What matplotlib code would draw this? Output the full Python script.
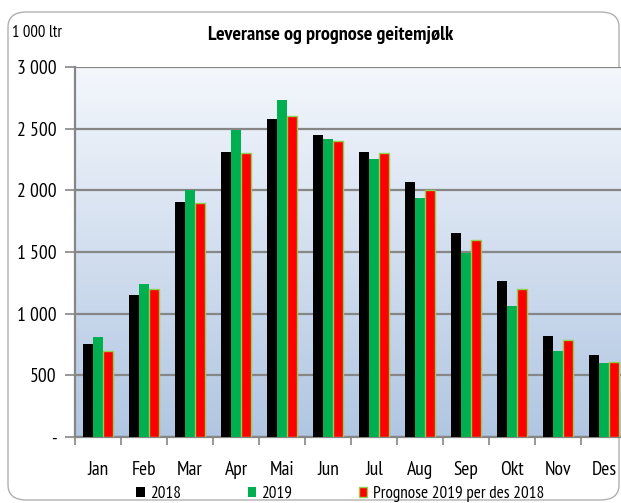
import numpy as np
import matplotlib

matplotlib.use("Agg")
import matplotlib.pyplot as plt
from matplotlib.patches import FancyBboxPatch, Patch
from matplotlib.ticker import FuncFormatter, MultipleLocator

plt.rcParams["font.family"] = ["PT Sans Narrow", "Carlito", "DejaVu Sans"]

MONTHS = ["Jan", "Feb", "Mar", "Apr", "Mai", "Jun", "Jul", "Aug", "Sep", "Okt", "Nov", "Des"]
Y2018 = [752, 1150, 1905, 2308, 2578, 2451, 2308, 2065, 1651, 1265, 818, 665]
Y2019 = [811, 1240, 2005, 2492, 2730, 2419, 2257, 1938, 1494, 1062, 700, 598]
PROGNOSE = [700, 1200, 1900, 2300, 2600, 2400, 2300, 2000, 1600, 1200, 790, 605]
LABELS = ["2018", "2019", "Prognose 2019 per des 2018"]

fig = plt.figure(figsize=(6.21, 5.03), dpi=100)
fig.patch.set_facecolor("white")
frame = FancyBboxPatch((8 / 621, 3 / 503), 611 / 621, 488 / 503,
                       boxstyle="round,pad=0,rounding_size=0.03",
                       transform=fig.transFigure, facecolor="white",
                       edgecolor="#b0b0b0", linewidth=1.0, zorder=-5)
fig.patches.append(frame)

ax = fig.add_axes([75 / 621, (503 - 437) / 503, 552 / 621, 370 / 503], zorder=2)
ax.set_facecolor("none")

# background gradient
grad = np.linspace(0, 1, 256).reshape(-1, 1)
top = np.array([244, 247, 252]) / 255
bot = np.array([176, 198, 226]) / 255
img = top + (bot - top) * grad[..., None]
ax.imshow(img, extent=(-0.5, 11.5, 0, 3000), aspect="auto", zorder=0,
          origin="upper")

x = np.arange(len(MONTHS))
w = 0.22
ax.bar(x - w, Y2018, w, color="black", zorder=3)
ax.bar(x, Y2019, w, color="#00b050", zorder=3)
ax.bar(x + w, PROGNOSE, w, color="#ff0000", edgecolor="#92d050",
       linewidth=1.0, zorder=3)

ax.set_xlim(-0.5, 11.5)
ax.set_ylim(0, 3000)
ax.yaxis.set_major_locator(MultipleLocator(500))
ax.yaxis.set_major_formatter(FuncFormatter(
    lambda v, p: "-" if v == 0 else f"{int(v):,}".replace(",", " ")))
ax.grid(axis="y", color="#868686", linewidth=1.6, zorder=1)
ax.set_axisbelow(True)

ax.set_xticks(x)
ax.set_xticklabels(MONTHS, fontsize=14)
ax.set_xticks(np.arange(-0.5, 12, 1), minor=True)
ax.tick_params(axis="x", which="major", length=0, pad=17)
ax.tick_params(axis="x", which="minor", length=6, color="#868686", width=1.2)
ax.tick_params(axis="y", length=7.5, color="#868686", width=1.2, labelsize=14, pad=6)

for s in ("top", "right"):
    ax.spines[s].set_visible(False)
for s in ("left", "bottom"):
    ax.spines[s].set_color("#868686")
    ax.spines[s].set_linewidth(1.6)

fig.text(12 / 621, 1 - 33 / 503, "1 000 ltr", fontsize=12, va="center", ha="left")
fig.text(331 / 621, 1 - 35 / 503, "Leveranse og prognose geitemjølk",
         fontsize=14.5, fontweight="bold", va="center", ha="center")

handles = [Patch(facecolor="black"),
           Patch(facecolor="#00b050"),
           Patch(facecolor="#ff0000", edgecolor="#92d050")]
fig.legend(handles, LABELS, loc="center", bbox_to_anchor=(340 / 621, 1 - 494 / 503),
           ncol=3, frameon=False, fontsize=12.3, handlelength=0.5,
           handleheight=0.6, handletextpad=0.3, columnspacing=3.9)

fig.savefig("out.png", dpi=100)
